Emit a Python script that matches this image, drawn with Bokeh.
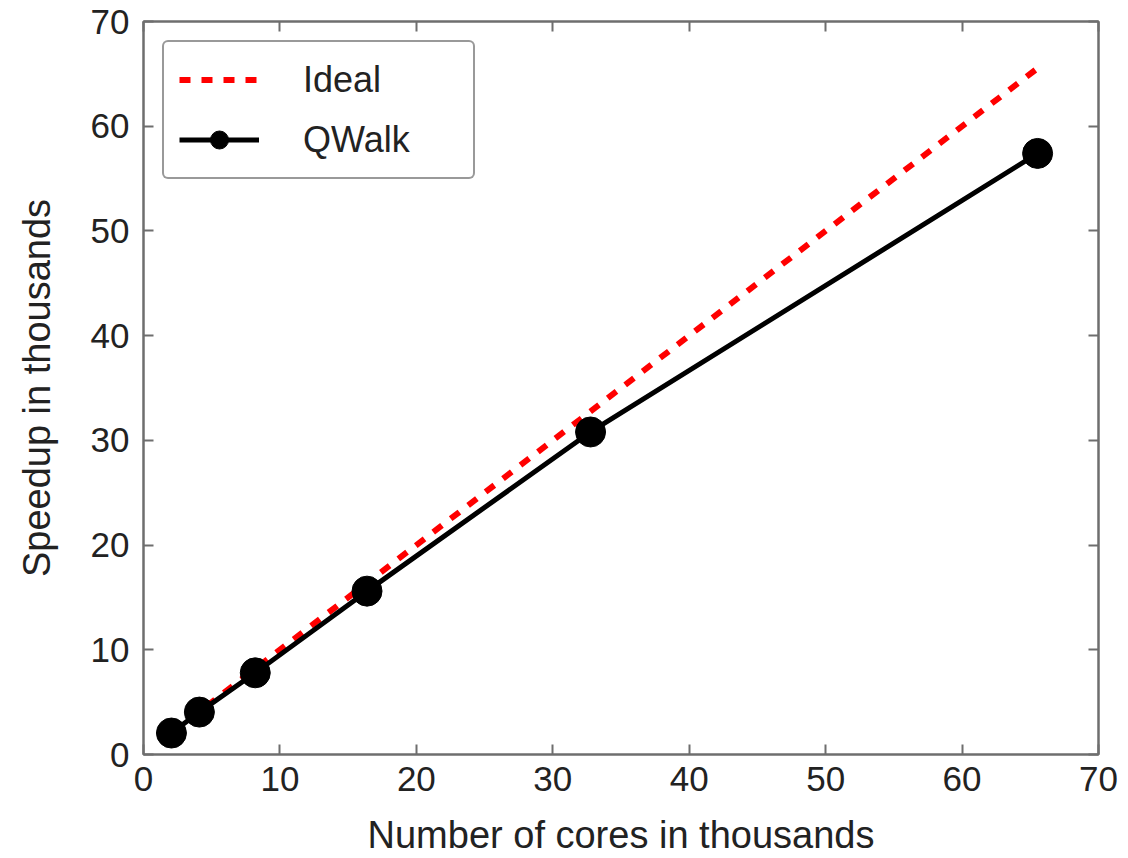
from bokeh.plotting import figure
from bokeh.models import LinearAxis, Legend, LegendItem, Range1d, FixedTicker
from bokeh.embed import file_html
from bokeh.resources import INLINE

cores = [2.048, 4.096, 8.192, 16.384, 32.768, 65.536]
ideal = [2.048, 4.096, 8.192, 16.384, 32.768, 65.536]
qwalk = [2.05, 4.05, 7.8, 15.6, 30.8, 57.4]
ticks = [0, 10, 20, 30, 40, 50, 60, 70]

FONT = "Liberation Sans"
AX = "#6e6e6e"

p = figure(width=1128, height=858, output_backend="svg", toolbar_location=None,
           x_range=Range1d(0, 70), y_range=Range1d(0, 70),
           min_border_left=143, min_border_right=30, min_border_top=21, min_border_bottom=103,
           x_axis_label="Number of cores in thousands", y_axis_label="Speedup in thousands")
p.xgrid.visible = False
p.ygrid.visible = False
p.outline_line_color = AX
p.outline_line_width = 2

r_ideal = p.line(cores, ideal, line_color="red", line_width=6, line_dash="11 11")
r_line = p.line(cores, qwalk, line_color="black", line_width=5)
r_pts = p.scatter(cores, qwalk, size=30, fill_color="black", line_color="black")

def style(ax, labels=True):
    ax.ticker = FixedTicker(ticks=ticks)
    ax.axis_line_color = AX
    ax.axis_line_width = 2
    ax.major_tick_line_color = AX
    ax.major_tick_line_width = 2
    ax.major_tick_in = 10
    ax.major_tick_out = 0
    ax.minor_tick_line_color = None
    ax.major_label_text_font = FONT
    ax.major_label_text_font_size = "35px"
    ax.major_label_text_color = "#222222"
    ax.axis_label_text_font = FONT
    ax.axis_label_text_font_size = "38px"
    ax.axis_label_text_font_style = "normal"
    ax.axis_label_text_color = "#222222"
    if not labels:
        ax.major_label_text_alpha = 0
        ax.major_label_text_font_size = "1px"

for ax in p.xaxis + p.yaxis:
    style(ax)
p.xaxis.major_label_standoff = 12
p.yaxis.major_label_standoff = 14
p.xaxis.axis_label_standoff = 20
p.yaxis.axis_label_standoff = 30

top = LinearAxis()
style(top, labels=False)
p.add_layout(top, "above")
right = LinearAxis()
style(right, labels=False)
p.add_layout(right, "right")

legend = Legend(items=[LegendItem(label="Ideal", renderers=[r_ideal]),
                       LegendItem(label="QWalk", renderers=[r_line, r_pts])],
                location="top_left")
legend.label_text_font = FONT
legend.label_text_font_size = "36px"
legend.label_text_color = "#222222"
legend.glyph_width = 80
legend.glyph_height = 45
legend.label_height = 45
legend.label_width = 155
legend.spacing = 15
legend.padding = 15
legend.margin = 19
legend.label_standoff = 44
legend.border_line_color = "#333333"
legend.border_line_width = 2
if "border_radius" in Legend.properties():
    legend.border_radius = 6
p.add_layout(legend)

open("out.html", "w").write(file_html(p, INLINE))
